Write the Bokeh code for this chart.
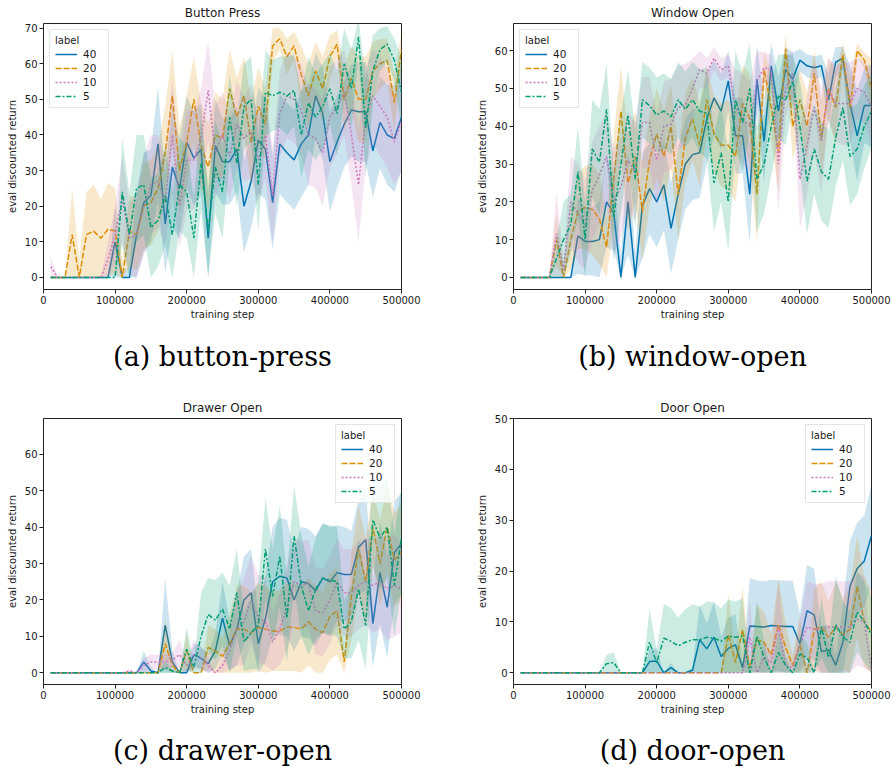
from bokeh.plotting import figure
from bokeh.layouts import column, row
from bokeh.models import Title, Legend, LegendItem, FixedTicker, NumeralTickFormatter, Range1d
from bokeh.embed import file_html
from bokeh.resources import INLINE

steps = list(range(10000, 500001, 10000))
labels = ["40", "20", "10", "5"]
x_ticks = [0, 100000, 200000, 300000, 400000, 500000]

# ---- Button Press ----
button_40 = [0]*9 + [10, 0, 0, 12, 21, 23, 37.5, 15, 31, 25,
                     38, 33.5, 36, 11, 37, 32.5, 32.5, 36, 20, 27,
                     38.5, 36, 21, 37.5, 35, 33, 37.5, 40, 51, 46,
                     32.5, 38, 43, 47, 46.5, 46.5, 35.5, 43.5, 40, 39, 45]
button_40_ci = [0]*9 + [10, 2, 3, 12, 14, 13, 16, 14, 17, 14,
                        13, 13, 13, 12, 13, 12, 12, 12, 13, 13,
                        15, 14, 13, 14, 14, 14, 15, 14, 12, 13,
                        14, 13, 12, 13, 14, 14, 13, 13, 14, 15, 15]
button_20 = [0, 0, 0, 12, 0, 12, 13, 11, 13.5, 13,
             0, 13, 12, 20, 21, 25, 35, 51, 30, 38,
             50, 37, 31, 40, 39, 53, 45, 51, 38, 48,
             43, 65, 67, 62, 65, 57, 51, 58, 53, 62,
             65.5, 50, 56, 50, 50, 58, 60, 61, 49, 64]
button_20_ci = [0, 0, 0, 13, 5, 12, 13, 11, 13, 12,
                5, 10, 10, 12, 12, 12, 13, 13, 12, 13,
                12, 12, 12, 12, 11, 11, 11, 11, 12, 11,
                10, 5, 3, 5, 4, 8, 9, 8, 9, 6,
                4, 9, 9, 12, 12, 8, 7, 6, 8, 5]
button_10 = [3, 0, 0, 0, 0, 0, 0, 0, 5, 12,
             22, 11, 12, 20, 26, 27, 21, 40, 20, 33,
             33, 39, 52.5, 35, 40, 34, 43, 39, 41, 33,
             40, 23, 46, 51, 50, 47, 40, 39, 35, 45,
             48, 52, 40, 26, 45, 51, 48, 45, 38, 44]
button_10_ci = [3, 0, 0, 0, 0, 0, 0, 0, 5, 8,
                12, 10, 12, 14, 14, 13, 12, 16, 12, 14,
                14, 14, 14, 13, 12, 12, 12, 12, 13, 12,
                12, 13, 12, 12, 12, 13, 14, 14, 15, 14,
                13, 12, 14, 16, 14, 13, 14, 14, 12, 14]
button_5 = [0]*10 + [24, 12, 25, 26, 14, 16, 23, 12, 26, 24,
                     11, 32, 13, 31, 24, 45, 32, 48, 50, 26,
                     52, 51, 52, 51, 52.5, 40, 49, 45, 48, 53,
                     46, 60, 53, 67.5, 42, 58, 64, 65.5, 61, 52]
button_5_ci = [0]*10 + [15, 12, 15, 14, 14, 13, 14, 12, 13, 13,
                        11, 13, 13, 13, 13, 12, 12, 12, 12, 13,
                        12, 10, 10, 11, 10, 12, 13, 12, 12, 10,
                        12, 10, 11, 5, 14, 10, 6, 5, 6, 10]

# ---- Window Open ----
window_40 = [0]*8 + [11, 9.5, 9.5, 10, 20, 17, 0, 20, 0, 19,
                     23.5, 20, 24.5, 13, 22, 30, 32.5, 33, 42, 47.5,
                     44, 52, 37.5, 37.5, 22, 52.5, 36, 56, 44, 55,
                     52.5, 57.5, 56, 55.5, 56, 47, 57, 58, 46, 37.5, 45.5, 45.5]
window_40_ci = [0]*8 + [10, 9, 9, 10, 12, 10, 6, 14, 6, 14,
                        12, 12, 12, 12, 12, 12, 12, 12, 12, 10,
                        10, 8, 10, 10, 13, 9, 11, 6, 9, 6,
                        7, 3, 3, 3, 3, 7, 4, 3, 10, 12, 10, 11]
window_20 = [0]*5 + [10, 0, 10, 17.5, 18.5, 18, 15.5, 8, 26, 44,
                     25, 32, 17.5, 31, 38, 32, 40, 22, 37, 42,
                     35, 47, 38, 35, 35, 32, 46, 42, 22, 55,
                     45, 33, 60.5, 40, 47, 40, 54, 37, 50, 45,
                     59, 45, 60, 57.5, 50]
window_20_ci = [0]*5 + [7, 3, 8, 10, 11, 12, 12, 8, 12, 12,
                        13, 12, 13, 12, 12, 12, 11, 12, 12, 11,
                        11, 9, 10, 11, 12, 12, 10, 12, 13, 5,
                        9, 10, 4, 9, 8, 9, 6, 10, 8, 10,
                        3, 8, 2, 2, 8]
window_10 = [0]*5 + [11.5, 2, 20, 17, 14, 23, 27, 32, 20, 24,
                     31, 28, 41, 41, 31, 40, 40.5, 45, 45.5, 50,
                     55, 54, 58, 55, 56, 45, 42, 40, 52, 55.5,
                     55, 30, 50, 54, 26, 35, 45, 36, 50, 46,
                     46, 46, 50, 49, 45]
window_10_ci = [0]*5 + [11, 3, 12, 13, 12, 13, 13, 12, 14, 13,
                        13, 13, 12, 12, 12, 12, 12, 11, 11, 8,
                        5, 4, 3, 3, 3, 10, 12, 12, 8, 4,
                        4, 13, 8, 6, 13, 13, 12, 14, 8, 10,
                        11, 11, 8, 8, 10]
window_5 = [0]*5 + [5, 10, 14, 28, 10, 34, 30.5, 44.5, 16, 30,
                    43, 26, 47, 45.5, 43, 44, 42.5, 47, 44.5, 47,
                    44, 43.5, 25, 33, 20, 47, 41, 50, 26, 30,
                    40, 48, 47, 52, 40, 25.5, 34, 28, 26, 37,
                    45, 32, 34, 40, 44]
window_5_ci = [0]*5 + [5, 10, 8, 12, 10, 13, 14, 12, 12, 13,
                       12, 13, 10, 10, 10, 10, 10, 10, 10, 10,
                       11, 12, 13, 13, 13, 13, 13, 12, 14, 13,
                       13, 11, 12, 7, 12, 14, 12, 13, 13, 13,
                       14, 13, 12, 11, 10]

# ---- Drawer Open ----
drawer_40 = [0]*13 + [3, 0.5, 0, 13, 3, 0, 0, 5, 4, 2.5,
                      6, 15, 7.5, 12, 20, 22, 8, 15, 25, 26.5,
                      26, 20, 25, 24.5, 22.5, 26, 25, 27.5, 27, 27,
                      34.5, 36.5, 13.5, 27.5, 18, 33, 35.5]
drawer_40_ci = [0]*13 + [3, 1, 0, 13, 3, 0, 1, 3, 3, 3,
                         5, 10, 7, 10, 12, 12, 8, 12, 15, 16,
                         16, 14, 15, 15, 15, 15, 15, 13, 13, 12,
                         13, 14, 12, 14, 14, 14, 14]
drawer_20 = [0]*16 + [8, 2, 0, 6, 0, 0, 7, 6, 4.5, 8,
                      12, 12, 11, 12.5, 12, 11.5, 11.5, 12.5, 12.5, 12,
                      14, 12, 11, 15.5, 17, 3, 21, 34, 25, 40,
                      30, 40, 31, 33]
drawer_20_ci = [0]*16 + [7, 2, 0, 5, 0, 0, 6, 6, 5, 8,
                         12, 12, 11, 12, 12, 11, 11, 12, 12, 12,
                         12, 12, 11, 12, 12, 3, 12, 12, 12, 10,
                         12, 12, 13, 13]
drawer_10 = [0]*11 + [0.5, 0, 2, 3, 3, 3, 3.5, 5, 2, 5,
                      4, 2, 0, 2, 6, 12, 14, 20, 15, 14,
                      8.5, 12, 18, 25, 24, 24.5, 17, 16.5, 20, 25,
                      22, 22, 24, 25, 24, 25, 23, 24, 23]
drawer_10_ci = [0]*11 + [0.5, 0, 2, 2, 2, 2, 2, 4, 2, 4,
                         3, 2, 0, 2, 5, 10, 12, 12, 12, 12,
                         8, 10, 12, 12, 12, 12, 12, 12, 12, 12,
                         12, 12, 12, 12, 13, 13, 14, 14, 12]
drawer_5 = [0]*16 + [1.5, 0.5, 0, 6.5, 1.5, 10, 16, 14.5, 17.5, 12,
                     22, 8.5, 11, 13, 34, 21, 32, 15, 37.5, 24,
                     17, 23, 26, 25.5, 25, 12, 14, 23, 13, 42,
                     37, 40, 24, 37]
drawer_5_ci = [0]*16 + [1.5, 0.5, 0, 6, 1.5, 12, 10, 11, 10, 12,
                        12, 8, 10, 12, 14, 13, 14, 12, 14, 14,
                        12, 14, 15, 15, 15, 8, 10, 14, 12, 13,
                        14, 14, 14, 14]

# ---- Door Open ----
door_40 = [0]*18 + [2.2, 2.3, 0, 1, 0, 0, 0.5, 6.5, 4.7, 7,
                    3.2, 4.8, 5.5, 1, 9.2, 9.1, 9, 9.3, 9.2, 9.1,
                    9.1, 5.7, 12.2, 11.4, 4.2, 4.5, 1.5, 6, 17, 20.5,
                    22, 27]
door_40_ci = [0]*18 + [2.5, 2.5, 0, 1, 0, 0, 0.5, 7, 5, 7,
                       4, 6, 6, 1, 9.5, 9, 9, 9, 9, 9,
                       9, 6, 9, 9, 5, 5, 2, 7, 9, 9,
                       9, 10]
door_20 = [0]*29 + [7.5, 2, 8.5, 1, 6.5, 6, 3.5, 9.5, 5, 1.5,
                    5.5, 0, 8.5, 9, 7, 9, 7.5, 8.5, 17, 10,
                    8]
door_20_ci = [0]*29 + [8, 2, 8.5, 1, 7, 6, 4, 9, 5, 2,
                       5.5, 0, 8, 9, 7, 9, 7, 8.5, 10, 9,
                       8]
door_10 = [0]*32 + [7, 0, 3, 2, 9, 1.5, 1, 5.5, 9, 8.5,
                    8.5, 9, 9, 9, 9, 10.5, 10, 0.5]
door_10_ci = [0]*32 + [7, 0, 3, 2, 9, 2, 1, 5, 9, 9,
                       9, 9, 9, 9, 9, 9, 9, 0.5]
door_5 = [0]*12 + [1.8, 2, 0, 0, 0, 0, 6, 2, 6.8, 6.2,
                   5.3, 6, 6.5, 6.5, 7, 6.8, 6.2, 7.2, 7, 7.2,
                   0, 7.2, 3, 0, 4, 1.5, 0, 3.7, 3, 0,
                   9, 3, 9.5, 7, 6, 12, 10, 7.5]
door_5_ci = [0]*12 + [1.8, 2, 0, 0, 0, 0, 6.5, 2.5, 6.8, 6.5,
                      5.5, 6.5, 7, 6.5, 7, 7, 6.5, 7.2, 7, 7.5,
                      0, 7, 3, 0, 4, 1.5, 0, 3.7, 3, 0,
                      6, 3, 9.5, 7, 6, 8, 8, 7.5]

COLORS = {"40": "#0173b2", "20": "#de8f05", "10": "#cc78bc", "5": "#029e73"}
DASHES = {"40": "solid", "20": "6 2", "10": "2 2", "5": "5 2 2 2"}
FONT = "DejaVu Sans"
TXT = "#1a1a1a"


def make_panel(title, means, cis, yr, yticks, legend_loc, caption,
               left, right, bottom, spacer_px):
    p = figure(frame_width=358, frame_height=266,
               x_range=Range1d(0, 500000), y_range=Range1d(*yr),
               output_backend="svg", toolbar_location=None,
               min_border_left=left, min_border_right=right,
               min_border_top=23, min_border_bottom=bottom,
               title=title)
    p.title.align = "center"
    p.title.vertical_align = "middle"
    p.title.text_font = FONT
    p.title.text_font_size = "12px"
    p.title.text_font_style = "normal"
    p.title.text_color = TXT
    p.title.standoff = 6

    p.xgrid.visible = False
    p.ygrid.visible = False
    p.outline_line_color = "#222222"
    p.outline_line_width = 1
    p.background_fill_color = "white"
    p.border_fill_color = "white"

    for ax in (p.xaxis[0], p.yaxis[0]):
        ax.axis_line_color = None
        ax.major_tick_line_color = "#222222"
        ax.major_tick_out = 4
        ax.major_tick_in = 0
        ax.minor_tick_line_color = None
        ax.major_label_text_font = FONT
        ax.major_label_text_font_size = "10px"
        ax.major_label_text_color = TXT
        ax.axis_label_text_font = FONT
        ax.axis_label_text_font_size = "10px"
        ax.axis_label_text_font_style = "normal"
        ax.axis_label_text_color = TXT
        ax.major_label_standoff = 2
    p.xaxis.ticker = FixedTicker(ticks=x_ticks)
    p.xaxis.formatter = NumeralTickFormatter(format="0")
    p.yaxis.ticker = FixedTicker(ticks=yticks)
    p.xaxis.axis_label = "training step"
    p.yaxis.axis_label = "eval discounted return"
    p.xaxis.axis_label_standoff = 2
    p.yaxis.axis_label_standoff = 4

    line_r = {}
    for lab in labels:
        m = means[lab]
        c = cis[lab]
        lo = [max(a - b, 0) for a, b in zip(m, c)]
        hi = [a + b for a, b in zip(m, c)]
        p.varea(x=steps, y1=lo, y2=hi, fill_color=COLORS[lab], fill_alpha=0.2)
        line_r[lab] = p.line(steps, m, line_color=COLORS[lab], line_width=1.5,
                             line_dash=DASHES[lab])

    leg = Legend(items=[LegendItem(label=lab, renderers=[line_r[lab]]) for lab in labels],
                 location=legend_loc, title="label")
    leg.title_text_font = FONT
    leg.title_text_font_size = "10px"
    leg.title_text_font_style = "normal"
    leg.title_text_color = TXT
    leg.title_standoff = 2
    leg.label_text_font = FONT
    leg.label_text_font_size = "10.5px"
    leg.label_text_color = TXT
    leg.glyph_width = 22
    leg.glyph_height = 12
    leg.label_height = 12
    leg.label_standoff = 6
    leg.spacing = 2
    leg.padding = 5
    leg.margin = 6
    leg.border_line_color = "#cccccc"
    leg.border_line_width = 1
    leg.background_fill_alpha = 0.8
    p.add_layout(leg)

    p.add_layout(Title(text=" ", text_font_size=f"{spacer_px}px"), "below")
    p.add_layout(Title(text=caption, align="center", vertical_align="top",
                       text_font="DejaVu Serif", text_font_size="27px",
                       text_font_style="normal", text_color="black",
                       standoff=0), "below")
    return p


pa = make_panel("Button Press",
                {"40": button_40, "20": button_20, "10": button_10, "5": button_5},
                {"40": button_40_ci, "20": button_20_ci, "10": button_10_ci, "5": button_5_ci},
                (-3.4, 71.3), [0, 10, 20, 30, 40, 50, 60, 70], "top_left",
                "(a) button-press", 43, 69, 106, 5)
pb = make_panel("Window Open",
                {"40": window_40, "20": window_20, "10": window_10, "5": window_5},
                {"40": window_40_ci, "20": window_20_ci, "10": window_10_ci, "5": window_5_ci},
                (-3.2, 67.2), [0, 10, 20, 30, 40, 50, 60], "top_left",
                "(b) window-open", 43, 20, 106, 5)
pc = make_panel("Drawer Open",
                {"40": drawer_40, "20": drawer_20, "10": drawer_10, "5": drawer_5},
                {"40": drawer_40_ci, "20": drawer_20_ci, "10": drawer_10_ci, "5": drawer_5_ci},
                (-3.2, 69.8), [0, 10, 20, 30, 40, 50, 60], "top_right",
                "(c) drawer-open", 43, 69, 82, 4)
pd_ = make_panel("Door Open",
                 {"40": door_40, "20": door_20, "10": door_10, "5": door_5},
                 {"40": door_40_ci, "20": door_20_ci, "10": door_10_ci, "5": door_5_ci},
                 (-2.3, 50), [0, 10, 20, 30, 40, 50], "top_right",
                 "(d) door-open", 43, 20, 82, 4)

layout = column(row(pa, pb), row(pc, pd_))
open("out.html", "w").write(file_html(layout, INLINE))
